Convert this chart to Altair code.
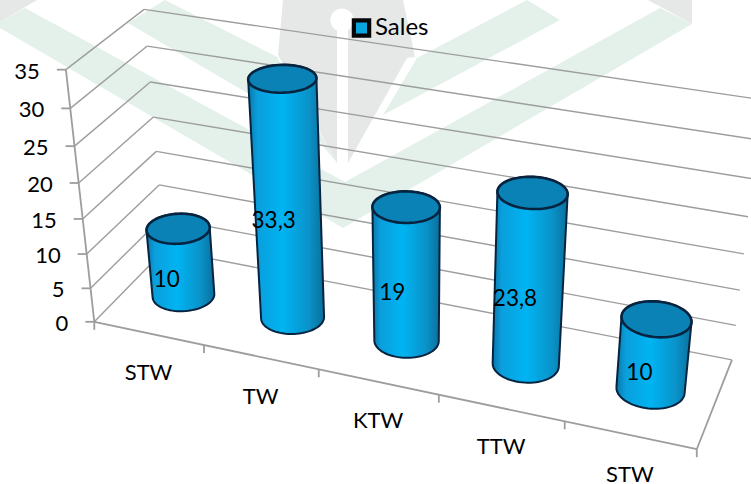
import altair as alt
import numpy as np
import pandas as pd

# Chart values
categories = ["STW", "TW", "KTW", "TTW", "STW"]
sales = [10, 33.3, 19, 23.8, 10]
sales_labels = ["10", "33,3", "19", "23,8", "10"]
value_ticks = [0, 5, 10, 15, 20, 25, 30, 35]
series_name = "Sales"

W, H = 751, 484
FONT = "Lato"

# Camera calibration: (category position, depth, value) -> canvas position
CALIBRATION = [
    ((0, 0, 0), (94, 321)), ((0, 0, 15), (83, 218)), ((0, 0, 35), (66, 70)),
    ((0, 1, 0), (165, 250)), ((0, 1, 15), (156, 152)), ((0, 1, 35), (144, 9)),
    ((1, 1, 0), (732, 359)), ((1, 1, 15), (744, 254)), ((1, 1, 20), (748, 217)),
    ((1, 0, 0), (697, 449)), ((0.2, 0, 0), (204, 346)), ((0.4, 0, 0), (319, 369)),
    ((0.6, 0, 0), (439, 395)), ((0.8, 0, 0), (564, 422)),
]


def fit_camera(pairs):
    rows, rhs = [], []
    for (u, v, h), (px, py) in pairs:
        rows.append([u, v, h, 1, 0, 0, 0, 0, -px * u, -px * v, -px * h])
        rhs.append(px)
        rows.append([0, 0, 0, 0, u, v, h, 1, -py * u, -py * v, -py * h])
        rhs.append(py)
    sol = np.linalg.lstsq(np.array(rows, float), np.array(rhs, float), rcond=None)[0]
    return np.append(sol, 1.0).reshape(3, 4)


CAMERA = fit_camera(CALIBRATION)


def project(u, v, h):
    p = CAMERA @ np.array([u, v, h, 1.0])
    return p[0] / p[2], p[1] / p[2]


def hull(points):
    pts = sorted(set(points))

    def half(seq):
        out = []
        for p in seq:
            while len(out) > 1 and (out[-1][0] - out[-2][0]) * (p[1] - out[-2][1]) - (
                out[-1][1] - out[-2][1]
            ) * (p[0] - out[-2][0]) <= 0:
                out.pop()
            out.append(p)
        return out[:-1]

    return half(pts) + half(pts[::-1])


def frame(groups):
    rows = []
    for g, pts in enumerate(groups):
        for i, (x, y) in enumerate(list(pts) + [pts[0]]):
            rows.append({"x": x, "y": y, "g": g, "i": i})
    return pd.DataFrame(rows)


X = alt.X("x:Q", scale=alt.Scale(domain=[0, W], nice=False, zero=False), axis=None)
Y = alt.Y("y:Q", scale=alt.Scale(domain=[H, 0], nice=False, zero=False), axis=None)


def shapes(groups, **mark):
    return alt.Chart(frame(groups)).mark_line(clip=True, **mark).encode(
        x=X, y=Y, detail="g:N", order="i:Q"
    )


def segments(pairs, **mark):
    rows = []
    for g, (a, b) in enumerate(pairs):
        rows += [{"x": a[0], "y": a[1], "g": g, "i": 0}, {"x": b[0], "y": b[1], "g": g, "i": 1}]
    return alt.Chart(pd.DataFrame(rows)).mark_line(clip=True, **mark).encode(
        x=X, y=Y, detail="g:N", order="i:Q"
    )


def texts(rows, **mark):
    return alt.Chart(pd.DataFrame(rows)).mark_text(font=FONT, color="#000000", **mark).encode(
        x=X, y=Y, text="t:N"
    )


# Faint backdrop emblem
GREEN = "#e3f1ea"
GREY = "#e6e8e8"
emblem_green = [
    [(0, 22), (25, 8), (345, 182), (660, 8), (692, 24), (343, 228), (0, 28)],
    [(128, 23), (165, 0), (277, 57), (337, 163), (310, 130)],
    [(417, 58), (527, 0), (560, 20), (383, 115)],
]
emblem_grey = [
    [(0, 0), (37, 0), (0, 22)],
    [(648, 0), (692, 0), (692, 24)],
    [(283, 0), (278, 55), (337, 163), (337, 27), (348, 27), (348, 163), (407, 58), (415, 57), (403, 0)],
]
layers = [
    shapes(emblem_green, fill=GREEN, strokeWidth=0, stroke=GREEN),
    shapes(emblem_grey, fill=GREY, strokeWidth=0, stroke=GREY),
    alt.Chart(pd.DataFrame({"x": [342], "y": [20]})).mark_point(
        filled=True, color="white", opacity=1, size=530
    ).encode(x=X, y=Y),
]

# Walls, floor edges and ticks
GRID = "#9d9d9d"
grid_lines = []
for v in value_ticks:
    grid_lines.append((project(0, 0, v), project(0, 1, v)))
    grid_lines.append((project(0, 1, v), project(1, 1, v)))
frame_lines = [
    (project(0, 0, 0), project(0, 0, 35)),
    (project(0, 0, 0), project(1, 0, 0)),
    (project(1, 0, 0), project(1, 1, 0)),
]
tick_lines = []
for v in value_ticks:
    x0, y0 = project(0, 0, v)
    tick_lines.append(((x0 - 9, y0), (x0, y0)))
for k in range(len(categories) + 1):
    x0, y0 = project(k / len(categories), 0, 0)
    tick_lines.append(((x0, y0), (x0, y0 + 8)))

layers += [
    segments(grid_lines, stroke=GRID, strokeWidth=1.4),
    segments(frame_lines, stroke=GRID, strokeWidth=1.8),
    segments(tick_lines, stroke=GRID, strokeWidth=1.8),
]

# Cylinders, drawn in order along the category axis
RADIUS_U, RADIUS_V, DEPTH = 0.052, 0.2, 0.5
angles = [2 * np.pi * a / 72 for a in range(72)]


def ring(k, h):
    c = (k + 0.5) / len(categories)
    return [
        project(c + RADIUS_U * np.cos(a), DEPTH + RADIUS_V * np.sin(a), h) for a in angles
    ]


body_fill = alt.Gradient(
    gradient="linear", x1=0, x2=1, y1=0, y2=0,
    stops=[
        alt.GradientStop(color="#0b77a8", offset=0),
        alt.GradientStop(color="#0a9fdc", offset=0.12),
        alt.GradientStop(color="#00b4f2", offset=0.45),
        alt.GradientStop(color="#0a92c8", offset=0.8),
        alt.GradientStop(color="#0a6f9c", offset=1),
    ],
)
OUTLINE = "#06233f"
bodies = [hull(ring(k, 0) + ring(k, v)) for k, v in enumerate(sales)]
caps = [ring(k, v) for k, v in enumerate(sales)]
layers += [
    shapes(bodies, fill=body_fill, stroke=OUTLINE, strokeWidth=2.0),
    shapes(caps, fill="#0a82b6", stroke=OUTLINE, strokeWidth=2.6),
]

# Text
value_rows = []
for v in value_ticks:
    x0, y0 = project(0, 0, v)
    value_rows.append({"x": x0 - 26, "y": y0 + 2, "t": str(v)})
category_rows = []
for k, name in enumerate(categories):
    x0, y0 = project((k + 0.5) / len(categories), 0, 0)
    category_rows.append({"x": x0, "y": y0 + 39.5, "t": name})
label_rows = []
for k, (v, lab) in enumerate(zip(sales, sales_labels)):
    x0, y0 = project((k + 0.5) / len(categories), DEPTH, v / 2)
    label_rows.append({"x": x0 - 14, "y": y0 + 18, "t": lab})

layers += [
    texts(value_rows, fontSize=22, align="right", baseline="middle"),
    texts(category_rows, fontSize=22, align="center", baseline="middle"),
    texts(label_rows, fontSize=22.5, align="center", baseline="middle"),
    # Legend
    alt.Chart(pd.DataFrame({"x": [361.5], "y": [28]})).mark_square(
        size=380, color="#050505", opacity=1, cornerRadius=3
    ).encode(x=X, y=Y),
    alt.Chart(pd.DataFrame({"x": [361.5], "y": [28]})).mark_square(
        size=121, color="#0aa5dd", opacity=1
    ).encode(x=X, y=Y),
    texts([{"x": 375, "y": 28, "t": series_name}], fontSize=24, align="left", baseline="middle"),
]

chart = alt.layer(*layers).properties(
    width=W, height=H, padding=0,
    autosize=alt.AutoSizeParams(type="none"),
    background="white",
).configure_view(stroke=None)

chart.save("out.html", embed_options={"renderer": "svg", "actions": False})
